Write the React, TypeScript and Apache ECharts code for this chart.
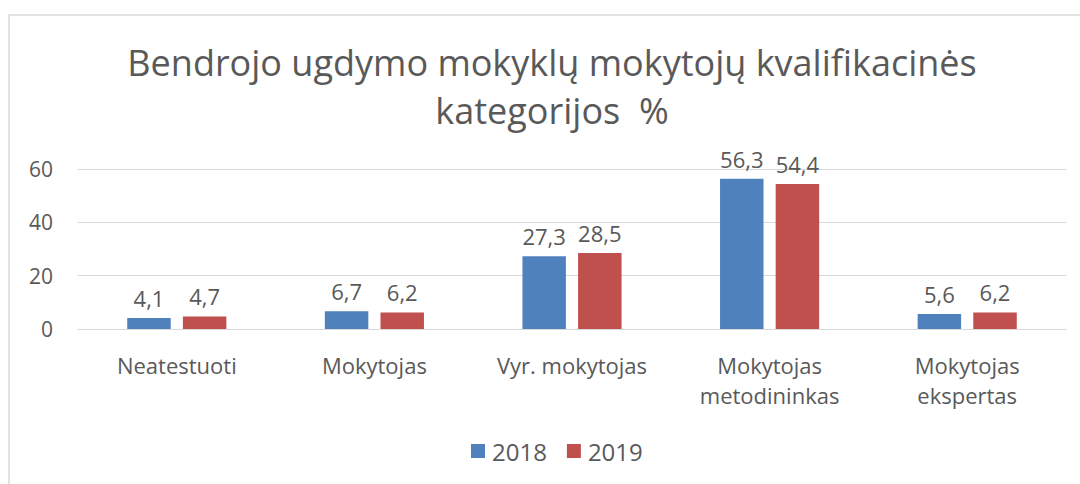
import React, { useEffect, useRef } from "react";
import * as echarts from "echarts";

const categories = ["Neatestuoti", "Mokytojas", "Vyr. mokytojas", "Mokytojas\nmetodininkas", "Mokytojas\nekspertas"];
const values2018 = [4.1, 6.7, 27.3, 56.3, 5.6];
const values2019 = [4.7, 6.2, 28.5, 54.4, 6.2];
const seriesNames = ["2018", "2019"];
const colors = ["#4f81bd", "#c0504d"];
const titleText = "Bendrojo ugdymo mokyklų mokytojų kvalifikacinės\nkategorijos  %";

const FONT = "Open Sans";
const TEXT = "#595959";

export default function App() {
  const ref = useRef<HTMLDivElement>(null);
  useEffect(() => {
    document.body.style.margin = "0";
    const chart = echarts.init(ref.current!, null, { renderer: "svg" });
    const labelCfg = {
      show: true,
      position: "top" as const,
      distance: 9,
      color: TEXT,
      fontSize: 22,
      fontFamily: FONT,
      formatter: (p: any) => String(p.value).replace(".", ","),
    };
    chart.setOption({
      animation: false,
      backgroundColor: "#ffffff",
      title: {
        text: titleText,
        left: 547,
        textAlign: "center",
        top: 33,
        textStyle: { color: TEXT, fontSize: 36, fontWeight: "normal", fontFamily: FONT, lineHeight: 48 },
      },
      graphic: [
        {
          type: "rect",
          shape: { x: 9, y: 15, width: 1100, height: 520 },
          style: { fill: "none", stroke: "#d9d9d9", lineWidth: 1.5 },
          silent: true,
        },
      ],
      legend: {
        data: seriesNames,
        bottom: 16,
        left: 466,
        itemWidth: 14,
        itemHeight: 14,
        itemGap: 20,
        icon: "rect",
        textStyle: { color: TEXT, fontSize: 24, fontFamily: FONT, padding: [0, 0, 0, 2] },
      },
      grid: { left: 78, right: 14, top: 169, bottom: 155, containLabel: false },
      xAxis: {
        type: "category",
        data: categories,
        axisLine: { show: true, lineStyle: { color: "#d9d9d9", width: 1 } },
        axisTick: { show: false },
        axisLabel: { color: TEXT, fontSize: 22, fontFamily: FONT, margin: 21, lineHeight: 30, interval: 0 },
      },
      yAxis: {
        type: "value",
        min: 0,
        max: 60,
        interval: 20,
        axisLine: { show: false },
        axisTick: { show: false },
        splitLine: { lineStyle: { color: "#d9d9d9", width: 1 } },
        axisLabel: { color: TEXT, fontSize: 21, fontFamily: FONT, margin: 25 },
      },
      series: [
        {
          name: seriesNames[0],
          type: "bar",
          data: values2018,
          barWidth: "22%",
          barGap: "28%",
          itemStyle: { color: colors[0] },
          label: labelCfg,
        },
        {
          name: seriesNames[1],
          type: "bar",
          data: values2019,
          barWidth: "22%",
          barGap: "28%",
          itemStyle: { color: colors[1] },
          label: labelCfg,
        },
      ],
    });
    return () => chart.dispose();
  }, []);
  return <div ref={ref} style={{ width: 1080, height: 484 }} />;
}
